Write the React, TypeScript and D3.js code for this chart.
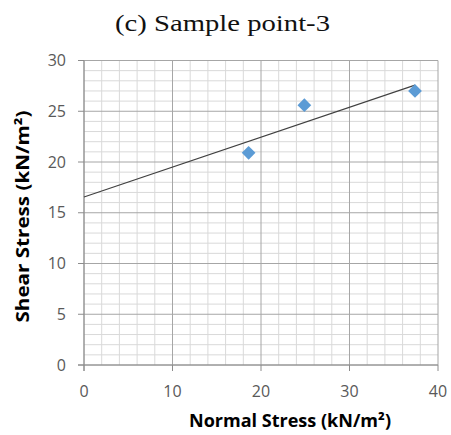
import React from "react";
import * as d3 from "d3";

// Measured samples: normal stress vs. shear stress (kN/m²)
const normalStress = [18.6, 24.9, 37.4];
const shearStress = [20.9, 25.6, 27.0];

const xTicks = [0, 10, 20, 30, 40];
const yTicks = [0, 5, 10, 15, 20, 25, 30];

const W = 451;
const H = 435;
const plot = { left: 84, right: 438, top: 60.5, bottom: 365 };

export default function App() {
  const x = d3.scaleLinear().domain([0, 40]).range([plot.left, plot.right]);
  const y = d3.scaleLinear().domain([0, 30]).range([plot.bottom, plot.top]);

  // least-squares linear trendline
  const mx = d3.mean(normalStress)!;
  const my = d3.mean(shearStress)!;
  const sxy = d3.sum(normalStress, (v, i) => (v - mx) * (shearStress[i] - my));
  const sxx = d3.sum(normalStress, (v) => (v - mx) * (v - mx));
  const slope = sxy / sxx;
  const intercept = my - slope * mx;
  const trendX = [0, d3.max(normalStress)!];
  const trend = d3
    .line<number>()
    .x((v) => x(v))
    .y((v) => y(intercept + slope * v));

  const minorX = d3.range(0, 40.001, 2).filter((v) => v % 10 !== 0);
  const minorY = d3.range(0, 30.001, 1).filter((v) => v % 5 !== 0);

  const diamond = d3.symbol().type(d3.symbolDiamond2).size(120)()!;

  const sans = "'Open Sans', 'Noto Sans', sans-serif";

  return (
    <svg
      width={W}
      height={H}
      style={{ position: "absolute", left: 0, top: 0, background: "#fff" }}
    >
      <text
        x={222.5}
        y={31}
        textAnchor="middle"
        fontFamily="'Liberation Serif', serif"
        fontSize={24}
        fill="#111"
        textLength={215}
        lengthAdjust="spacingAndGlyphs"
      >
        (c) Sample point-3
      </text>

      {/* minor grid */}
      <g stroke="#d9d9d9" strokeWidth={1}>
        {minorX.map((v) => (
          <line key={"mx" + v} x1={x(v)} x2={x(v)} y1={plot.top} y2={plot.bottom} />
        ))}
        {minorY.map((v) => (
          <line key={"my" + v} x1={plot.left} x2={plot.right} y1={y(v)} y2={y(v)} />
        ))}
      </g>
      {/* major grid */}
      <g stroke="#a6a6a6" strokeWidth={1}>
        {xTicks.map((v) => (
          <line key={"Mx" + v} x1={x(v)} x2={x(v)} y1={plot.top} y2={plot.bottom} />
        ))}
        {yTicks.map((v) => (
          <line key={"My" + v} x1={plot.left} x2={plot.right} y1={y(v)} y2={y(v)} />
        ))}
      </g>

      {/* axes and tick marks */}
      <g stroke="#8c8c8c" strokeWidth={1}>
        <line x1={plot.left} x2={plot.left} y1={plot.top} y2={plot.bottom + 6} />
        <line x1={plot.left - 6} x2={plot.right} y1={plot.bottom} y2={plot.bottom} />
        {yTicks.map((v) => (
          <line key={"ty" + v} x1={plot.left - 6} x2={plot.left} y1={y(v)} y2={y(v)} />
        ))}
        {xTicks.map((v) => (
          <line key={"tx" + v} x1={x(v)} x2={x(v)} y1={plot.bottom} y2={plot.bottom + 6} />
        ))}
      </g>

      {/* tick labels */}
      <g fontFamily={sans} fontSize={16} fill="#595959">
        {yTicks.map((v) => (
          <text key={"ly" + v} x={66} y={y(v) + 5.7} textAnchor="end">
            {v}
          </text>
        ))}
        {xTicks.map((v) => (
          <text key={"lx" + v} x={x(v)} y={397} textAnchor="middle">
            {v}
          </text>
        ))}
      </g>

      {/* trendline */}
      <path d={trend(trendX)!} fill="none" stroke="#404040" strokeWidth={1.1} />

      {/* data points */}
      {normalStress.map((v, i) => (
        <path
          key={"p" + i}
          d={diamond}
          transform={`translate(${x(v)},${y(shearStress[i])})`}
          fill="#5b9bd5"
        />
      ))}

      {/* axis titles */}
      <text
        x={290}
        y={427}
        textAnchor="middle"
        fontFamily={sans}
        fontWeight="bold"
        fontSize={18}
        fill="#000"
        textLength={202}
        lengthAdjust="spacingAndGlyphs"
      >
        Normal Stress (kN/m²)
      </text>
      <text
        transform={`translate(29,216.5) rotate(-90)`}
        textAnchor="middle"
        fontFamily={sans}
        fontWeight="bold"
        fontSize={18}
        fill="#000"
        textLength={212}
        lengthAdjust="spacingAndGlyphs"
      >
        Shear Stress (kN/m²)
      </text>
    </svg>
  );
}
